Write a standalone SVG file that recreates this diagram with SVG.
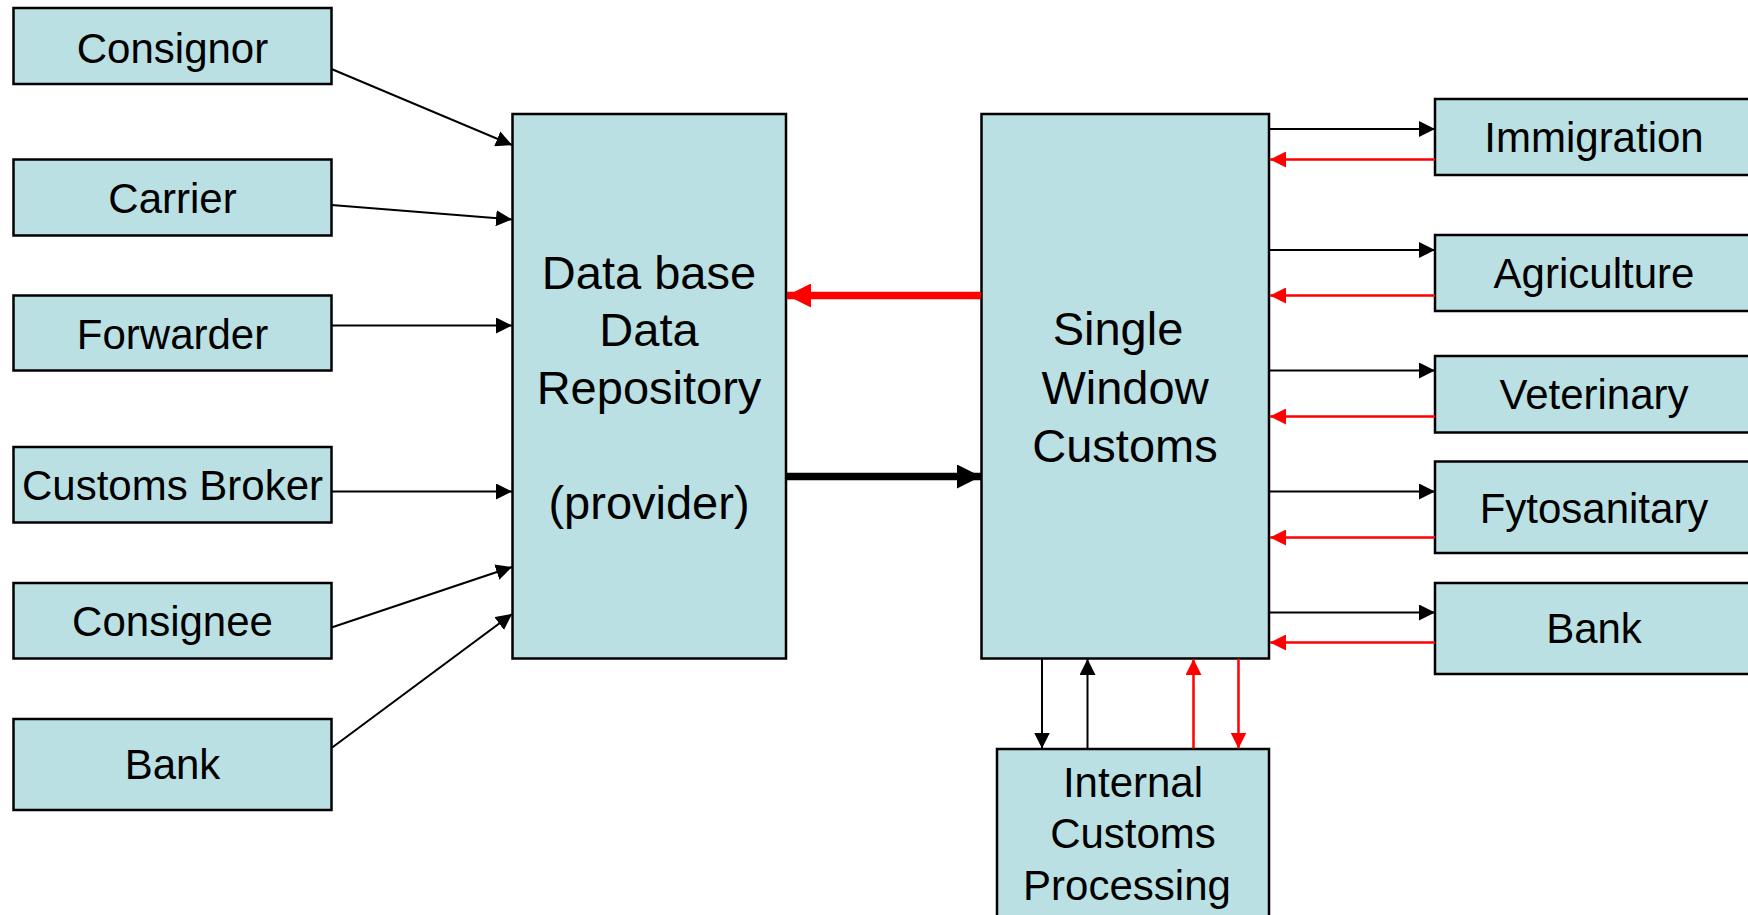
<svg xmlns="http://www.w3.org/2000/svg" width="1748" height="915" viewBox="0 0 1748 915">
<defs>
<style>
.box{fill:#BBE0E3;stroke:#000;stroke-width:2.5}
.t{font-family:"Liberation Sans",Arial,sans-serif;font-size:42px;fill:#000;text-anchor:middle}
.tb{font-family:"Liberation Sans",Arial,sans-serif;font-size:47px;fill:#000;text-anchor:middle}
.k{stroke:#000;stroke-width:2;fill:none}
.r{stroke:#FF0000;stroke-width:2.5;fill:none}
</style>
<marker id="ak" markerUnits="userSpaceOnUse" markerWidth="16" markerHeight="16" refX="15" refY="7.5" orient="auto" viewBox="0 0 15 15"><path d="M0,0 L15,7.5 L0,15 z" fill="#000"/></marker>
<marker id="ar" markerUnits="userSpaceOnUse" markerWidth="16" markerHeight="16" refX="15" refY="7.5" orient="auto" viewBox="0 0 15 15"><path d="M0,0 L15,7.5 L0,15 z" fill="#FF0000"/></marker>
<marker id="bk" markerUnits="userSpaceOnUse" markerWidth="24" markerHeight="24" refX="23" refY="11.5" orient="auto" viewBox="0 0 23 23"><path d="M0,0 L23,11.5 L0,23 z" fill="#000"/></marker>
<marker id="br" markerUnits="userSpaceOnUse" markerWidth="24" markerHeight="24" refX="23" refY="11.5" orient="auto" viewBox="0 0 23 23"><path d="M0,0 L23,11.5 L0,23 z" fill="#FF0000"/></marker>
</defs>
<rect width="1748" height="915" fill="#fff"/>
<g id="consignor"><rect class="box" x="13.5" y="8" width="318" height="76"/><text class="t" x="172.5" y="62.5">Consignor</text></g>
<g id="carrier"><rect class="box" x="13.5" y="159.5" width="318" height="76"/><text class="t" x="172.5" y="213">Carrier</text></g>
<g id="forwarder"><rect class="box" x="13.5" y="295.5" width="318" height="75"/><text class="t" x="172.5" y="349">Forwarder</text></g>
<g id="broker"><rect class="box" x="13.5" y="447" width="318" height="75.5"/><text class="t" x="172.5" y="499.5">Customs Broker</text></g>
<g id="consignee"><rect class="box" x="13.5" y="583" width="318" height="75.5"/><text class="t" x="172.5" y="635.5">Consignee</text></g>
<g id="bank-left"><rect class="box" x="13.5" y="719" width="318" height="91"/><text class="t" x="172.5" y="779">Bank</text></g>
<g id="database"><rect class="box" x="512.5" y="114" width="273.5" height="544.5"/>
<text class="tb" x="649" y="288.5">Data base</text>
<text class="tb" x="649" y="346">Data</text>
<text class="tb" x="649" y="403.5">Repository</text>
<text class="tb" x="649" y="518.5">(provider)</text></g>
<g id="single-window"><rect class="box" x="981.5" y="114" width="287.5" height="544.5"/>
<text class="tb" x="1118" y="345">Single</text>
<text class="tb" x="1125" y="403.5">Window</text>
<text class="tb" x="1125" y="462">Customs</text></g>
<g id="immigration"><rect class="box" x="1435" y="99" width="330" height="76"/><text class="t" x="1594" y="151.5">Immigration</text></g>
<g id="agriculture"><rect class="box" x="1435" y="235" width="330" height="76"/><text class="t" x="1594" y="287.5">Agriculture</text></g>
<g id="veterinary"><rect class="box" x="1435" y="356" width="330" height="76.5"/><text class="t" x="1594" y="409">Veterinary</text></g>
<g id="fytosanitary"><rect class="box" x="1435" y="461.5" width="330" height="91.5"/><text class="t" x="1594" y="522.5">Fytosanitary</text></g>
<g id="bank-right"><rect class="box" x="1435" y="583" width="330" height="91"/><text class="t" x="1594" y="643">Bank</text></g>
<g id="internal"><rect class="box" x="997" y="749" width="272" height="180"/>
<text class="t" x="1133" y="797">Internal</text>
<text class="t" x="1133" y="848">Customs</text>
<text class="t" x="1127" y="899.5">Processing</text></g>
<g id="connectors">
<line class="k" x1="331.5" y1="69" x2="512" y2="145" marker-end="url(#ak)"/>
<line class="k" x1="331.5" y1="205" x2="512" y2="219.5" marker-end="url(#ak)"/>
<line class="k" x1="331.5" y1="325.5" x2="512" y2="325.5" marker-end="url(#ak)"/>
<line class="k" x1="331.5" y1="491.5" x2="512" y2="491.5" marker-end="url(#ak)"/>
<line class="k" x1="331.5" y1="627.5" x2="512" y2="567" marker-end="url(#ak)"/>
<line class="k" x1="331.5" y1="748" x2="512" y2="614" marker-end="url(#ak)"/>
<line x1="981" y1="295.5" x2="787" y2="295.5" stroke="#FF0000" stroke-width="7.5" marker-end="url(#br)"/>
<line x1="786" y1="476.5" x2="981" y2="476.5" stroke="#000" stroke-width="7.5" marker-end="url(#bk)"/>
<line class="k" x1="1269" y1="129" x2="1435" y2="129" marker-end="url(#ak)"/>
<line class="r" x1="1435" y1="159.5" x2="1270" y2="159.5" marker-end="url(#ar)"/>
<line class="k" x1="1269" y1="250" x2="1435" y2="250" marker-end="url(#ak)"/>
<line class="r" x1="1435" y1="295.5" x2="1270" y2="295.5" marker-end="url(#ar)"/>
<line class="k" x1="1269" y1="370.5" x2="1435" y2="370.5" marker-end="url(#ak)"/>
<line class="r" x1="1435" y1="416.5" x2="1270" y2="416.5" marker-end="url(#ar)"/>
<line class="k" x1="1269" y1="491.5" x2="1435" y2="491.5" marker-end="url(#ak)"/>
<line class="r" x1="1435" y1="537.5" x2="1270" y2="537.5" marker-end="url(#ar)"/>
<line class="k" x1="1269" y1="612.5" x2="1435" y2="612.5" marker-end="url(#ak)"/>
<line class="r" x1="1435" y1="642.5" x2="1270" y2="642.5" marker-end="url(#ar)"/>
<line class="k" x1="1042" y1="658.5" x2="1042" y2="748.5" marker-end="url(#ak)"/>
<line class="k" x1="1087.5" y1="748.5" x2="1087.5" y2="659" marker-end="url(#ak)"/>
<line class="r" x1="1193.5" y1="748.5" x2="1193.5" y2="659" marker-end="url(#ar)"/>
<line class="r" x1="1238.5" y1="658.5" x2="1238.5" y2="748.5" marker-end="url(#ar)"/>
</g>
</svg>
